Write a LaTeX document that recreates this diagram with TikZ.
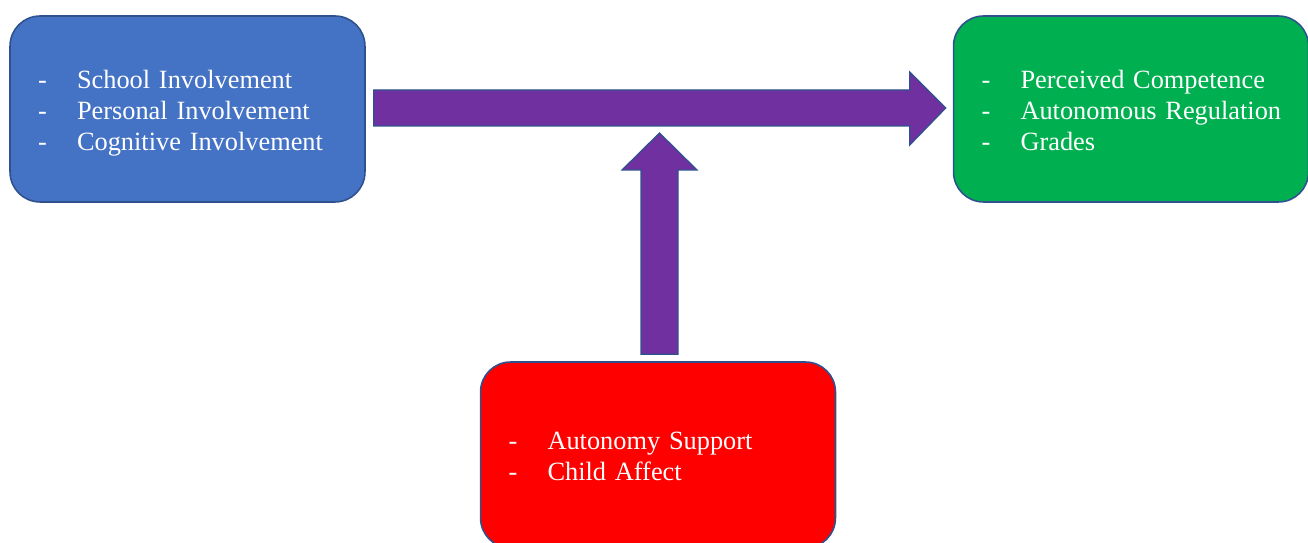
\documentclass[tikz,border=0pt]{standalone}
\usepackage{fontspec}
\setmainfont{Liberation Serif}
\usepackage[dvipsnames]{xcolor}
\usetikzlibrary{calc}
\definecolor{boxblue}{HTML}{4472C4}
\definecolor{boxgreen}{HTML}{00B050}
\definecolor{boxred}{HTML}{FF0000}
\definecolor{arrowpurple}{HTML}{7030A0}
\definecolor{edgeblue}{HTML}{2F528F}
\newcommand{\dashline}[1]{\mbox{\strut\makebox[0.78cm][l]{-}#1}}

\begin{document}
\begin{tikzpicture}[x=0.02cm,y=-0.02cm,
    box/.style={draw=edgeblue,line width=0.9pt,rounded corners=0.6cm,text=white,
      minimum width=7.1cm,minimum height=3.72cm,text width=5.98cm,inner xsep=0.56cm,
      align=left,font=\fontsize{15}{17.6}\selectfont,
      execute at begin node=\rule{0pt}{17pt}},
    fatarrow/.style={draw=edgeblue,line width=0.7pt,fill=arrowpurple}]
    \useasboundingbox (0,0) rectangle (1308,543);
    \node[box,fill=boxblue] (blue) at (187.5,109) {\dashline{School Involvement}\\ \dashline{Personal Involvement}\\ \dashline{Cognitive Involvement}};
    \node[box,fill=boxgreen] (green) at (1131,109) {\dashline{Perceived Competence}\\ \dashline{Autonomous Regulation}\\ \dashline{Grades}};
    \node[box,fill=boxred] (red) at (658,455) {\dashline{Autonomy Support}\\ \dashline{Child Affect}};
    \coordinate (hs) at ($(blue.east)+(8,-1)$);
    \coordinate (ht) at ($(green.west)+(-7,-1)$);
    \coordinate (hb) at ($(hs)+(0,18)$);
    \draw[fatarrow] (hs) ++(0,-18) -| ($(ht)+(-36,-36)$) -- (ht) -- ($(ht)+(-36,37)$) |- (hb) -- cycle;
    \coordinate (vs) at ($(red.north)+(1.5,-7)$);
    \coordinate (vt) at ($(vs |- hb)+(0,7)$);
    \draw[fatarrow] (vs) ++(-18.5,0) |- ($(vt)+(-37.5,37)$) -- (vt) -- ($(vt)+(37.5,37)$) -| ($(vs)+(18.5,0)$) -- cycle;
  \end{tikzpicture}
\end{document}
